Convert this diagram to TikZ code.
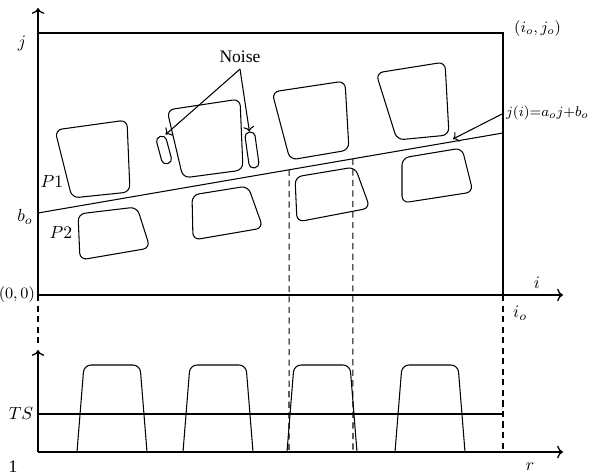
\documentclass[tikz,border=0pt]{standalone}
\usepackage{fontspec}
\setmainfont{Liberation Serif}
\usetikzlibrary{arrows.meta,calc,positioning}

\begin{document}
\begin{tikzpicture}[
  x=0.02cm,
  y=0.02cm,
  every node/.style={font=\normalsize},
  axis/.style={->,thick},
  frame/.style={thick},
  blob/.style={draw,semithick,rounded corners=4pt},
  noiseblob/.style={
    draw,
    semithick,
    rounded corners=2.6pt,
    minimum width=0.2cm,
    inner sep=0pt
  },
  guide/.style={dashed,semithick,dash pattern=on 3.5pt off 2.5pt},
  pointer/.style={->,semithick},
  pulse/.style={semithick,rounded corners=4pt}
]
\useasboundingbox (0,0) rectangle (594,475);
\begin{scope}
 \coordinate (O) at (38,180);
 \coordinate (jtop) at (38,467);
 \coordinate (iend) at (563,180);
 \coordinate (io) at (503,180);
 \coordinate (tl) at (38,442);
 \coordinate (tr) at (503,442);
 \coordinate (L0) at (38,262);
 \coordinate (L1) at (503,342);
 \draw[axis] (O) -- (jtop);
 \draw[axis] (O) -- (iend);
 \draw[frame] (tl) -- (tr) -- (io);
 \draw[semithick] (L0) -- (L1);
 \node (jlab) at (22,432) {\(j\)};
 \node[anchor=west,font=\small] (iojo) at (508,446) {\((i_o,j_o)\)};
 \node[anchor=east,font=\small,inner sep=1pt] (orig) at (37,180) {\((0,0)\)};
 \node (ilab) at (537,192) {\(i\)};
 \node[anchor=west] (iolab) at (507,162) {\(i_o\)};
 \node (bo) at (25,258) {\(b_o\)};
 \node (p1) at (52,293) {\(P1\)};
 \node (p2) at (61,242) {\(P2\)};
 \draw[blob] (55,345) -- (127,355) -- (130,283) -- (72,277) -- cycle;
 \draw[blob] (167,365) -- (240,376) -- (243,305) -- (183,297) -- cycle;
 \draw[blob] (272,383) -- (345,394) -- (349,325) -- (290,315) -- cycle;
 \draw[blob] (376,402) -- (445,413) -- (449,340) -- (397,335) -- cycle;
 \draw[blob] (78,261) -- (137,268) -- (150,227) -- (80,215) -- cycle;
 \draw[blob] (192,280) -- (248,289) -- (263,247) -- (193,235) -- cycle;
 \draw[blob] (295,298) -- (355,308) -- (370,267) -- (297,253) -- cycle;
 \draw[blob] (402,317) -- (462,327) -- (473,283) -- (402,272) -- cycle;
 \node[noiseblob,minimum height=0.56cm,rotate=15] (n1) at (164,325) {};
 \node[noiseblob,minimum height=0.72cm,rotate=8] (n2) at (252,325) {};
 \node (noise) at (240,418) {Noise};
 \draw[pointer] (noise.south) -- (n1.north east);
 \draw[pointer] (noise.south) -- (n2.north);
 \node[anchor=west,font=\footnotesize,inner sep=1pt] (eq) at (504,362)
  {\(j(i){=}a_oj{+}b_o\)};
 \coordinate (eqhit) at (453,336);
 \draw[pointer] (eq.west) -- (eqhit);
\end{scope}
\begin{scope}
 \coordinate (O2) at (38,23);
 \coordinate (rtop) at (38,125);
 \coordinate (rend) at (563,23);
 \coordinate (ts0) at (38,61);
 \coordinate (ts1) at (503,61);
 \draw[axis] (O2) -- (rtop);
 \draw[axis] (O2) -- (rend);
 \draw[semithick] (ts0) -- (ts1);
 \node (tslab) at (21,61) {\(TS\)};
 \node (one) at (13,8) {1};
 \node (rlab) at (530,8) {\(r\)};
 \foreach \x in {77,183,287,395}
  \draw[pulse] (\x,23) -- (\x+7,110) -- (\x+63,110) -- (\x+70,23);
 \coordinate (d0a) at (38,130);
 \coordinate (d1a) at ($(L0)!0.54!(L1)$);
 \coordinate (d1b) at (289,25);
 \coordinate (d2a) at ($(L0)!0.677!(L1)$);
 \coordinate (d2b) at (353,25);
 \coordinate (d3b) at (503,25);
 \draw[guide] (O) -- (d0a);
 \draw[guide] (d1a) -- (d1b);
 \draw[guide] (d2a) -- (d2b);
 \draw[guide] (io) -- (d3b);
\end{scope}
\end{tikzpicture}
\end{document}
